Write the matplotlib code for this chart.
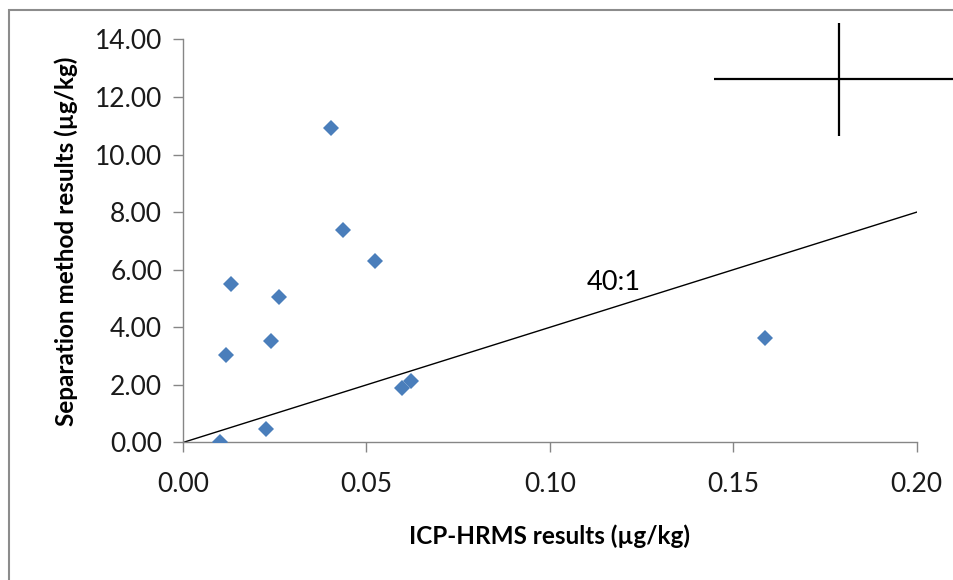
import matplotlib.pyplot as plt
from matplotlib.patches import Rectangle

# ICP-HRMS vs separation method results (µg/kg)
icp_hrms = [0.0101, 0.0225, 0.0117, 0.0130, 0.0241, 0.0261,
            0.0403, 0.0435, 0.0522, 0.0596, 0.0622, 0.1587]
separation = [0.03, 0.46, 3.03, 5.51, 3.51, 5.06,
              10.93, 7.37, 6.29, 1.89, 2.14, 3.63]

# 40:1 reference line
ratio_x = [0.0, 0.20]
ratio_y = [0.0, 8.0]
ratio_label = "40:1"

# stray error-bar cross in the top right corner
cross_x, cross_y = 0.1788, 12.61
cross_xerr, cross_yerr = 0.034, 1.97

x_ticks = [0.00, 0.05, 0.10, 0.15, 0.20]
y_ticks = [0, 2, 4, 6, 8, 10, 12, 14]

plt.rcParams["font.family"] = ["Lato", "DejaVu Sans"]

fig = plt.figure(figsize=(9.54, 5.8), dpi=100)
ax = fig.add_axes([0.1918, 0.2371, 0.7692, 0.6951])

# outer chart frame (runs off the right and bottom edges)
fig.patches.append(Rectangle((9 / 954, -0.05), 1.2, 1 - 10 / 580 + 0.05,
                             transform=fig.transFigure, fill=False,
                             edgecolor="#8c8c8c", linewidth=1.5))

ax.plot(ratio_x, ratio_y, color="black", linewidth=1.0, zorder=2)
ax.text(0.1101, 5.55, ratio_label, fontsize=19.5, va="center", ha="left")

ax.plot(icp_hrms, separation, linestyle="none", marker="D",
        markersize=8, color="#4a7ebb", markeredgewidth=0, zorder=3)

ax.errorbar([cross_x], [cross_y], xerr=cross_xerr, yerr=cross_yerr,
            fmt="none", ecolor="black", elinewidth=1.6, capsize=0,
            clip_on=False)

ax.set_xlim(0, 0.20)
ax.set_ylim(0, 14)
ax.set_xticks(x_ticks)
ax.set_yticks(y_ticks)
ax.set_xticklabels([f"{v:.2f}" for v in x_ticks])
ax.set_yticklabels([f"{v:.2f}" for v in y_ticks])

for side in ("top", "right"):
    ax.spines[side].set_visible(False)
for side in ("left", "bottom"):
    ax.spines[side].set_color("#868686")
    ax.spines[side].set_linewidth(1.0)

ax.tick_params(axis="both", direction="out", length=7, width=1,
               color="#868686", labelsize=19, labelcolor="#1a1a1a")
ax.tick_params(axis="x", pad=14)
ax.tick_params(axis="y", pad=8)

ax.set_xlabel("ICP-HRMS results (µg/kg)", fontsize=17.5, fontweight="bold",
              labelpad=20)
ax.set_ylabel("Separation method results (µg/kg)", fontsize=17.5,
              fontweight="bold", labelpad=12)

fig.savefig("out.png", dpi=100)
